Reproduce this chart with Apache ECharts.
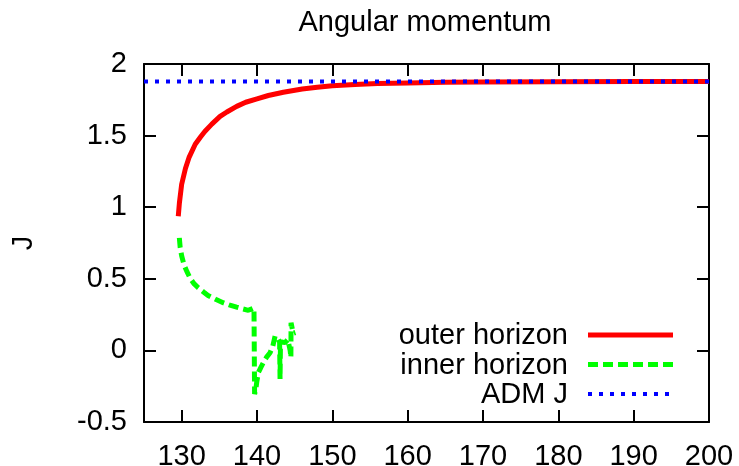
<!DOCTYPE html>
<html>
<head>
<meta charset="utf-8">
<script src="https://cdn.jsdelivr.net/npm/echarts@6/dist/echarts.min.js"></script>
<style>
  html, body { margin: 0; padding: 0; background: #fff; }
  #chart { width: 739px; height: 466px; }
</style>
</head>
<body>
<div id="chart"></div>
<script>
// Angular momentum of the horizons versus time
const titleText = 'Angular momentum';
const yName = 'J';
const xTicks = [130, 140, 150, 160, 170, 180, 190, 200];
const yTicks = [-0.5, 0, 0.5, 1, 1.5, 2];

const seriesNames = ['outer horizon', 'inner horizon', 'ADM J'];

// outer horizon J(t)
const outerT = [129.55, 129.7, 130.0, 130.5, 131.0, 131.8, 132.5, 133.1, 134.0, 135.1, 136.0, 137.3, 138.5, 140.0, 141.5, 143.5, 146.0, 148.0, 150.0, 153.0, 156.0, 160.0, 165.0, 170.0, 180.0, 190.0, 200.0];
const outerJ = [0.937, 1.03, 1.16, 1.27, 1.35, 1.44, 1.49, 1.53, 1.58, 1.634, 1.665, 1.704, 1.733, 1.757, 1.78, 1.803, 1.825, 1.838, 1.848, 1.857, 1.863, 1.868, 1.872, 1.874, 1.876, 1.877, 1.878];

// inner horizon J(t)
const innerT = [129.69, 129.8, 130.0, 130.3, 130.7, 131.1, 131.6, 132.2, 132.9, 133.5, 134.5, 135.5, 136.4, 137.3, 138.1, 138.85, 139.3, 139.6, 139.65, 139.68, 139.85, 139.97, 140.18, 140.5, 140.84, 141.3, 141.73, 142.1, 142.4, 142.84, 143.0, 143.06, 143.12, 143.7, 144.1, 144.4, 144.5, 144.52, 144.8, 145.1];
const innerJ = [0.786, 0.72, 0.66, 0.60, 0.55, 0.507, 0.468, 0.437, 0.408, 0.384, 0.357, 0.333, 0.316, 0.302, 0.29, 0.28, 0.29, 0.297, 0.295, -0.305, -0.27, -0.22, -0.155, -0.12, -0.086, -0.045, -0.016, 0.03, 0.10, 0.077, 0.06, -0.20, 0.06, 0.054, 0.075, 0.0, -0.05, 0.193, 0.12, 0.125];

// ADM angular momentum (constant)
const admT = [125, 200];
const admJ = [1.878, 1.878];

const zip = (xs, ys) => xs.map((x, i) => [x, ys[i]]);

const FONT = 'Liberation Sans';
const FS = 29;

const outerStyle = { color: '#ff0000', width: 5, type: 'solid', cap: 'butt' };
const innerStyle = { color: '#00ff00', width: 5, type: [10, 5], cap: 'butt' };
const admStyle = { color: '#0000ff', width: 4, type: [4, 7], cap: 'butt' };
const styles = [outerStyle, innerStyle, admStyle];

const axisLine = { show: true, onZero: false, lineStyle: { color: '#000', width: 2 } };
const tick = { show: true, inside: true, length: 12, lineStyle: { color: '#000', width: 2 } };
const label = { color: '#000', fontFamily: FONT, fontSize: FS };

// key box: right-aligned labels with line samples to their right
const keyTextRight = 568;
const keyLineX0 = 588;
const keyLineX1 = 673;
const keyRowY0 = 335;
const keyRowStep = 29.5;

const keyGraphics = [];
seriesNames.forEach((name, i) => {
  const y = keyRowY0 + i * keyRowStep;
  const s = styles[i];
  keyGraphics.push({
    type: 'text', x: keyTextRight, y: y + 1,
    style: { text: name, fill: '#000', font: FS + 'px "' + FONT + '"', textAlign: 'right', textVerticalAlign: 'middle' }
  });
  keyGraphics.push({
    type: 'line', shape: { x1: keyLineX0, y1: y, x2: keyLineX1, y2: y },
    style: { stroke: s.color, lineWidth: s.width, lineDash: Array.isArray(s.type) ? s.type : null, lineCap: 'butt' }
  });
});

const chart = echarts.init(document.getElementById('chart'), null, { renderer: 'canvas' });
chart.setOption({
  animation: false,
  backgroundColor: '#fff',
  title: {
    text: titleText,
    left: 420,
    textAlign: 'center',
    top: 3,
    textStyle: { color: '#000', fontFamily: FONT, fontSize: FS, fontWeight: 'normal' }
  },
  grid: { left: 144, right: 30, top: 64, bottom: 44, containLabel: false, outerBoundsMode: 'none' },
  xAxis: [
    {
      type: 'value', min: 125, max: 200, position: 'bottom',
      axisLine: axisLine,
      axisTick: Object.assign({}, tick, { customValues: xTicks }),
      axisLabel: Object.assign({}, label, { margin: 20, customValues: xTicks }),
      splitLine: { show: false }
    },
    {
      type: 'value', min: 125, max: 200, position: 'top',
      axisLine: axisLine,
      axisTick: Object.assign({}, tick, { customValues: xTicks }),
      axisLabel: { show: false },
      splitLine: { show: false }
    }
  ],
  yAxis: [
    {
      type: 'value', min: -0.5, max: 2, interval: 0.5, position: 'left',
      name: yName, nameLocation: 'middle', nameRotate: 90, nameGap: 106,
      nameTextStyle: { color: '#000', fontFamily: FONT, fontSize: FS },
      axisLine: axisLine,
      axisTick: Object.assign({}, tick, { customValues: yTicks }),
      axisLabel: Object.assign({}, label, { margin: 17, customValues: yTicks }),
      splitLine: { show: false }
    },
    {
      type: 'value', min: -0.5, max: 2, interval: 0.5, position: 'right',
      axisLine: axisLine,
      axisTick: Object.assign({}, tick, { customValues: yTicks }),
      axisLabel: { show: false },
      splitLine: { show: false }
    }
  ],
  graphic: keyGraphics,
  series: [
    {
      name: seriesNames[0], type: 'line', xAxisIndex: 0, yAxisIndex: 0,
      data: zip(outerT, outerJ), symbol: 'none', lineStyle: outerStyle, z: 2
    },
    {
      name: seriesNames[1], type: 'line', xAxisIndex: 0, yAxisIndex: 0,
      data: zip(innerT, innerJ), symbol: 'none', lineStyle: innerStyle, z: 3
    },
    {
      name: seriesNames[2], type: 'line', xAxisIndex: 0, yAxisIndex: 0,
      data: zip(admT, admJ), symbol: 'none', lineStyle: admStyle, z: 4
    }
  ]
});
</script>
</body>
</html>
